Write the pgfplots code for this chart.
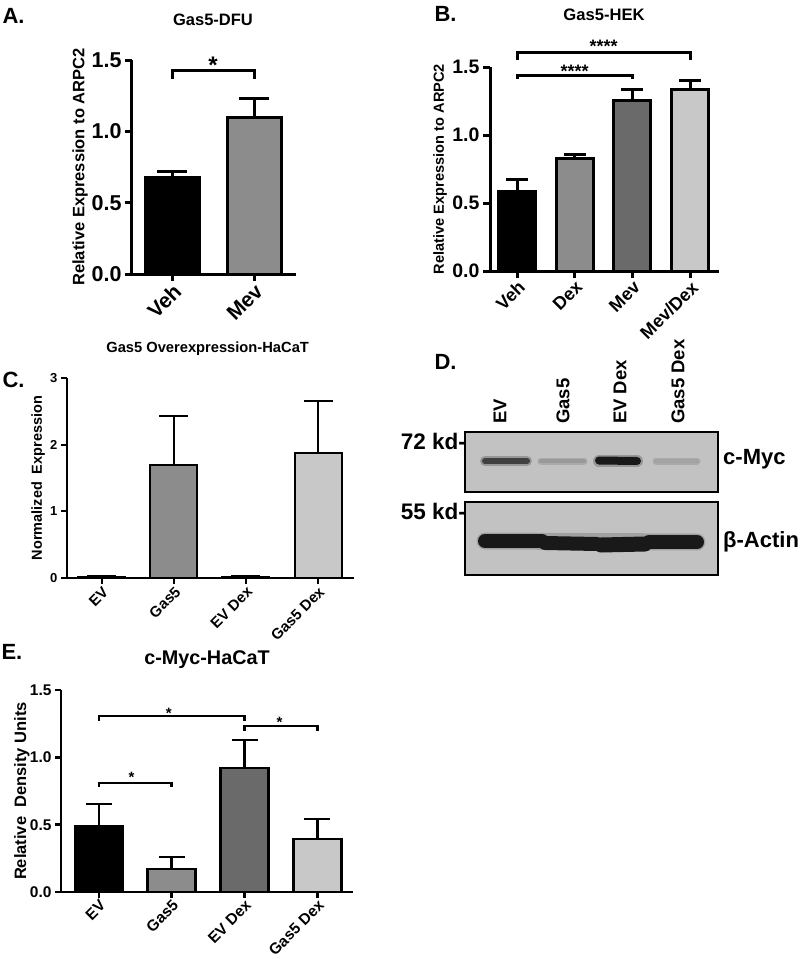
\documentclass[border=0pt]{standalone}
\usepackage{fontspec}
\setmainfont{Liberation Sans}
\usepackage{pgfplots}
\pgfplotsset{compat=1.18}

\newcommand\fs[1]{\fontsize{#1}{#1}\selectfont}

\definecolor{gmid}{HTML}{8C8C8C}
\definecolor{gdark}{HTML}{6A6A6A}
\definecolor{glight}{HTML}{C8C8C8}
\definecolor{blot}{HTML}{C2C2C2}

\pgfplotsset{
  gp/.style={
    scale only axis, clip=false, anchor=south west,
    axis x line*=bottom, axis y line*=left,
    axis line style={line width=#1,-},
    tick style={line width=#1, black},
    tick align=outside, major tick length=7pt,
    ymin=0,
    /pgf/number format/assume math mode=true,
    yticklabel style={/pgf/number format/fixed, /pgf/number format/fixed zerofill, /pgf/number format/precision=1},
    xticklabel style={rotate=45, anchor=north east, inner sep=1pt},
    every axis y label/.style={rotate=90, anchor=center},
    every axis title/.style={anchor=center},
  },
  % one bar with its upper error bar
  gpbar/.style n args={4}{ybar, bar shift=0pt, bar width=#1, fill=#2, draw=black, line width=#3,
    error bars/.cd, y dir=plus, y explicit,
    error bar style={line width=#3, black},
    error mark options={rotate=90, line width=#3, black, mark size=#4}},
}

\begin{document}
\begin{tikzpicture}
\useasboundingbox (0pt,0pt) rectangle (800pt,-959pt);

% ---------------- A ----------------
\node[anchor=west, font=\bfseries\fs{22}] at (-1pt,-16pt) {A.};
\begin{axis}[gp=3pt, at={(132pt,-274pt)}, width=164pt, height=214pt,
  xmin=-0.488, xmax=1.512, ymax=1.5, ytick={0,0.5,1,1.5},
  xtick={0,1}, xticklabels={Veh,Mev},
  yticklabel style={font=\bfseries\fs{21.5}},
  xticklabel style={font=\bfseries\fs{21}},
  ylabel={Relative Expression to ARPC2},
  ylabel style={at={(axis description cs:-0.317,0.5)}, font=\bfseries\fs{16.5}},
  title={Gas5-DFU},
  title style={at={(axis description cs:0.494,1.19)}, font=\bfseries\fs{16.5}}]
\addplot[gpbar={54pt}{black}{3pt}{15pt}] coordinates {(0,0.673) +- (0,0.042)};
\addplot[gpbar={54pt}{gmid}{3pt}{15pt}] coordinates {(1,1.100) +- (0,0.127)};
\draw[line width=3pt] (axis cs:0,1.367) -- (axis cs:0,1.423) -- (axis cs:1,1.423) -- (axis cs:1,1.367);
\node[font=\bfseries\fs{24}] at (axis cs:0.5,1.46) {*};
\end{axis}

% ---------------- B ----------------
\node[anchor=west, font=\bfseries\fs{22}] at (431pt,-14pt) {B.};
\begin{axis}[gp=3pt, at={(490pt,-271pt)}, width=229pt, height=204pt,
  xmin=-0.468, xmax=3.5, ymax=1.5, ytick={0,0.5,1,1.5},
  xtick={0,1,2,3}, xticklabels={Veh,Dex,Mev,Mev/Dex},
  yticklabel style={font=\bfseries\fs{19.5}},
  xticklabel style={font=\bfseries\fs{18}},
  ylabel={Relative Expression to ARPC2},
  ylabel style={at={(axis description cs:-0.218,0.5)}, font=\bfseries\fs{14.6}},
  title={Gas5-HEK},
  title style={at={(axis description cs:0.498,1.255)}, font=\bfseries\fs{16.6}}]
\addplot[gpbar={37pt}{black}{3pt}{11pt}] coordinates {(0,0.581) +- (0,0.095)};
\addplot[gpbar={37pt}{gmid}{3pt}{11pt}] coordinates {(1,0.824) +- (0,0.029)};
\addplot[gpbar={37pt}{gdark}{3pt}{11pt}] coordinates {(2,1.257) +- (0,0.081)};
\addplot[gpbar={37pt}{glight}{3pt}{11pt}] coordinates {(3,1.338) +- (0,0.066)};
\draw[line width=3pt] (axis cs:0,1.41) -- (axis cs:0,1.441) -- (axis cs:2,1.441) -- (axis cs:2,1.41);
\draw[line width=3pt] (axis cs:0,1.55) -- (axis cs:0,1.603) -- (axis cs:3,1.603) -- (axis cs:3,1.55);
\node[font=\bfseries\fs{18}] at (axis cs:1,1.47) {****};
\node[font=\bfseries\fs{18}] at (axis cs:1.5,1.65) {****};
\end{axis}

% ---------------- C ----------------
\node[anchor=west, font=\bfseries\fs{22}] at (-1pt,-380pt) {C.};
\begin{axis}[gp=2pt, at={(67pt,-578pt)}, width=287pt, height=200pt,
  major tick length=6pt,
  xmin=-0.486, xmax=3.5, ymax=3, ytick={0,1,2,3},
  yticklabel style={/pgf/number format/precision=0, font=\bfseries\fs{13}},
  xtick={0,1,2,3}, xticklabels={EV,Gas5,EV Dex,Gas5 Dex},
  xticklabel style={font=\bfseries\fs{15}},
  ylabel={Normalized\ \ Expression},
  ylabel style={at={(axis description cs:-0.101,0.5)}, font=\bfseries\fs{14.5}},
  title={Gas5 Overexpression-HaCaT},
  title style={at={(axis description cs:0.49,1.145)}, font=\bfseries\fs{14.7}}]
\addplot[gpbar={47pt}{black}{2pt}{14.5pt}] coordinates {(0,0.02) +- (0,0.01)};
\addplot[gpbar={47pt}{gmid}{2pt}{14.5pt}] coordinates {(1,1.695) +- (0,0.735)};
\addplot[gpbar={47pt}{gdark}{2pt}{14.5pt}] coordinates {(2,0.02) +- (0,0.01)};
\addplot[gpbar={47pt}{glight}{2pt}{14.5pt}] coordinates {(3,1.875) +- (0,0.780)};
\end{axis}

% ---------------- D (blot) ----------------
\node[anchor=west, font=\bfseries\fs{22}] at (431pt,-362pt) {D.};
\foreach \lx/\lab in {500/EV, 563/Gas5, 620/EV Dex, 678/Gas5 Dex}
  \node[rotate=90, anchor=west, font=\bfseries\fs{18.5}, inner sep=0pt] at (\lx pt,-424pt) {\lab};
\node[anchor=east, font=\bfseries\fs{22.5}, inner sep=0pt] at (466pt,-441pt) {72 kd-};
\node[anchor=east, font=\bfseries\fs{22.5}, inner sep=0pt] at (466pt,-511pt) {55 kd-};
\node[anchor=west, font=\bfseries\fs{22}, inner sep=0pt] at (723pt,-459pt) {c-Myc};
\node[anchor=west, font=\bfseries\fs{22}, inner sep=0pt] at (723pt,-542pt) {β-Actin};

\begin{axis}[scale only axis, anchor=south west, at={(465pt,-492pt)}, width=253pt, height=60pt,
  xmin=0, xmax=253, ymin=0, ymax=60, xtick=\empty, ytick=\empty,
  axis line style={line width=2pt}, axis background/.style={fill=blot}]
% c-Myc bands: soft halo then core
\addplot[line width=10pt, line cap=round, color=black, opacity=0.22] coordinates {(20,31) (62,31)};
\addplot[line width=6pt, line cap=round, color=black!75] coordinates {(20,31) (62,31)};
\addplot[line width=7pt, line cap=round, color=black, opacity=0.12] coordinates {(76,31) (119,31)};
\addplot[line width=4pt, line cap=round, color=black!40] coordinates {(76,31) (119,31)};
\addplot[line width=12pt, line cap=round, color=black, opacity=0.22] coordinates {(134,31) (172,31)};
\addplot[line width=8pt, line cap=round, color=black!90] coordinates {(134,31.5) (172,31)};
\addplot[line width=7pt, line cap=round, color=black, opacity=0.12] coordinates {(191,31) (232,31)};
\addplot[line width=4pt, line cap=round, color=black!36] coordinates {(191,31) (232,31)};
\end{axis}

\begin{axis}[scale only axis, anchor=south west, at={(465pt,-575pt)}, width=253pt, height=73pt,
  xmin=0, xmax=253, ymin=0, ymax=73, xtick=\empty, ytick=\empty,
  axis line style={line width=2pt}, axis background/.style={fill=blot}]
% beta-actin bands
\addplot[line width=17pt, line cap=round, color=black!60, opacity=0.35] coordinates {(20,34) (232,33)};
\addplot[line width=14pt, line cap=round, color=black!90] coordinates {(20,34) (77,34)};
\addplot[line width=14pt, line cap=round, color=black!90] coordinates {(80,32) (132,31)};
\addplot[line width=15pt, line cap=round, color=black!90] coordinates {(136,30) (180,31)};
\addplot[line width=14pt, line cap=round, color=black!90] coordinates {(184,33) (232,33)};
\end{axis}

% ---------------- E ----------------
\node[anchor=west, font=\bfseries\fs{22}] at (-2pt,-652pt) {E.};
\begin{axis}[gp=2.5pt, at={(61pt,-892pt)}, width=292pt, height=202pt,
  major tick length=6pt,
  xmin=-0.52, xmax=3.49, ymax=1.5, ytick={0,0.5,1,1.5},
  yticklabel style={font=\bfseries\fs{15.5}},
  xtick={0,1,2,3}, xticklabels={EV,Gas5,EV Dex,Gas5 Dex},
  xticklabel style={font=\bfseries\fs{15.5}, inner sep=0.5pt},
  ylabel={Relative\ \ Density Units},
  ylabel style={at={(axis description cs:-0.134,0.5)}, font=\bfseries\fs{16.5}},
  title={c-Myc-HaCaT},
  title style={at={(axis description cs:0.5,1.149)}, font=\bfseries\fs{19.8}}]
\addplot[gpbar={48pt}{black}{2.5pt}{13pt}] coordinates {(0,0.490) +- (0,0.163)};
\addplot[gpbar={48pt}{gmid}{2.5pt}{13pt}] coordinates {(1,0.171) +- (0,0.089)};
\addplot[gpbar={48pt}{gdark}{2.5pt}{13pt}] coordinates {(2,0.921) +- (0,0.208)};
\addplot[gpbar={48pt}{glight}{2.5pt}{13pt}] coordinates {(3,0.394) +- (0,0.148)};
\draw[line width=2.5pt] (axis cs:0,0.78) -- (axis cs:0,0.809) -- (axis cs:1,0.809) -- (axis cs:1,0.78);
\draw[line width=2.5pt] (axis cs:0,1.27) -- (axis cs:0,1.307) -- (axis cs:2,1.307) -- (axis cs:2,1.27);
\draw[line width=2.5pt] (axis cs:2,1.196) -- (axis cs:2,1.233) -- (axis cs:3,1.233) -- (axis cs:3,1.196);
\node[font=\bfseries\fs{15}] at (axis cs:0.45,0.85) {*};
\node[font=\bfseries\fs{15}] at (axis cs:0.96,1.33) {*};
\node[font=\bfseries\fs{15}] at (axis cs:2.48,1.26) {*};
\end{axis}
\end{tikzpicture}
\end{document}
